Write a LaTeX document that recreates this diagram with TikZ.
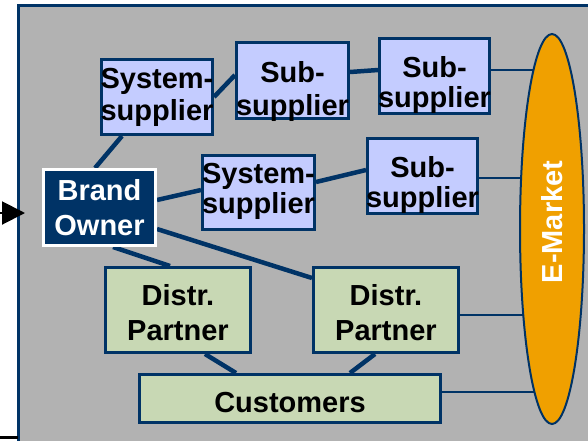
\documentclass[tikz,border=0pt]{standalone}
\usepackage{fontspec}
\setmainfont{Liberation Sans}
\usetikzlibrary{shapes.geometric,arrows.meta,calc}
\definecolor{navy}{HTML}{003366}
\definecolor{panelgray}{HTML}{B2B2B2}
\definecolor{supfill}{HTML}{C4CCFF}
\definecolor{distfill}{HTML}{C8D8B4}
\definecolor{emorange}{HTML}{F0A000}
\pgfdeclarelayer{panel}
\pgfdeclarelayer{links}
\pgfsetlayers{panel,links,main}
% centred two-line label: #1 raise of the first baseline above the node centre,
% #2 line distance, #3 and #4 the two lines
\newcommand\stacklines[4]{\makebox[0pt][c]{\raisebox{#1}[0pt][0pt]{%
  \vtop{\baselineskip=#2\relax\lineskiplimit=-100pt\halign{\hfil##\hfil\cr#3\cr#4\cr}}}}}
% centred one-line label lowered or raised by #1
\newcommand\oneline[2]{\makebox[0pt][c]{\raisebox{#1}[0pt][0pt]{#2}}}
\begin{document}
\begin{tikzpicture}[x=1pt,y=-1pt,
  boxtext/.style={font=\bfseries\fontsize{29}{35}\selectfont},
  box/.style={boxtext, draw=navy, line width=3pt, inner sep=0pt},
  supbox/.style={box, fill=supfill},
  distbox/.style={box, fill=distfill},
  ownerbox/.style={box, draw=white, fill=navy, text=white},
  link/.style={draw=navy, line width=4.5pt},
  thinlink/.style={draw=navy, line width=2.5pt}]
\useasboundingbox (0,0) rectangle (588,440);
\clip (0,0) rectangle (588,440);

% grey panel with its framed top and left edges
\begin{pgfonlayer}{panel}
  \fill[panelgray] (19,6) rectangle (600,460);
  \draw[navy, line width=3pt] (18.5,460) -- (18.5,5.5) -- (600,5.5);
\end{pgfonlayer}

% supply side
\node[supbox, minimum width=111pt, minimum height=75pt] (ss1) at (157,97)
  {\stacklines{9pt}{32pt}{System-}{supplier}};
\node[supbox, minimum width=112pt, minimum height=76pt] (sub1) at (292.5,80.5)
  {\stacklines{-1.5pt}{33pt}{Sub-}{supplier}};
\node[supbox, minimum width=110pt, minimum height=75pt] (sub2) at (434.5,76)
  {\stacklines{-1pt}{30pt}{Sub-}{supplier}};
\node[ownerbox, minimum width=112pt, minimum height=76pt] (bo) at (99.5,207.5)
  {\stacklines{7.5pt}{35pt}{Brand}{Owner}};
\node[supbox, minimum width=112pt, minimum height=74pt] (ss2) at (258.5,192.5)
  {\stacklines{9.5pt}{30pt}{System-}{supplier}};
\node[supbox, minimum width=110pt, minimum height=75pt] (sub3) at (422.5,176)
  {\stacklines{-1pt}{30pt}{Sub-}{supplier}};

% distribution side
\node[distbox, minimum width=145pt, minimum height=85pt] (dp1) at (178,310)
  {\stacklines{5pt}{35pt}{Distr.}{Partner}};
\node[distbox, minimum width=145pt, minimum height=85pt] (dp2) at (386,310)
  {\stacklines{5pt}{35pt}{Distr.}{Partner}};
\node[distbox, minimum width=301pt, minimum height=48pt] (cust) at (290,398.5)
  {\oneline{-13.5pt}{Customers}};

% e-market
\node[ellipse, draw=navy, line width=2pt, fill=emorange, inner sep=0pt,
      minimum width=64pt, minimum height=390pt] (em) at (552,229) {};
\node[boxtext, text=white, rotate=90] (emlabel) at ([yshift=7pt]em.center) {E-Market};

% attachment points for the e-market links
\coordinate (s2r) at ([yshift=6pt]sub2.east);
\coordinate (s3r) at ([yshift=-2pt]sub3.east);
\coordinate (d2r) at ([yshift=-5pt]dp2.east);
\coordinate (cur) at ([yshift=6.5pt]cust.east);

\begin{pgfonlayer}{links}
  \draw[link] ([xshift=-35pt]ss1.south) -- ([xshift=-4.5pt]bo.north);
  \draw[link] (ss1.east) -- ([yshift=5.5pt]sub1.west);
  \draw[link] ([yshift=8.5pt]sub1.east) -- ([yshift=6pt]sub2.west);
  \draw[link] ([yshift=7.5pt]bo.east) -- ([yshift=2.5pt]ss2.west);
  \draw[link] ([yshift=10.5pt]ss2.east) -- ([yshift=6pt]sub3.west);
  \draw[link] ([yshift=-21.5pt]bo.east) -- ([yshift=32pt]dp2.west);
  \draw[link] ([xshift=13.5pt]bo.south) -- ([xshift=-8pt]dp1.north);
  \draw[link] ([xshift=27pt]dp1.south) -- ([xshift=-54pt]cust.north);
  \draw[link] ([xshift=-11pt]dp2.south) -- ([xshift=60pt]cust.north);
  \draw[thinlink] (s2r) -- (s2r -| em.center);
  \draw[thinlink] (s3r) -- (s3r -| em.center);
  \draw[thinlink] (d2r) -- (d2r -| em.center);
  \draw[thinlink] (cur) -- (cur -| em.center);
\end{pgfonlayer}

% incoming arrow and base line on the left
\coordinate (arrtail) at (-2,213);
\coordinate (arrtip) at (25,213);
\draw[line width=2pt, -{Triangle[length=23pt,width=23pt]}] (arrtail) -- (arrtip);
\coordinate (baseL) at (0,437.5);
\coordinate (baseR) at (18,437.5);
\draw[line width=2.5pt] (baseL) -- (baseR);
\end{tikzpicture}
\end{document}
